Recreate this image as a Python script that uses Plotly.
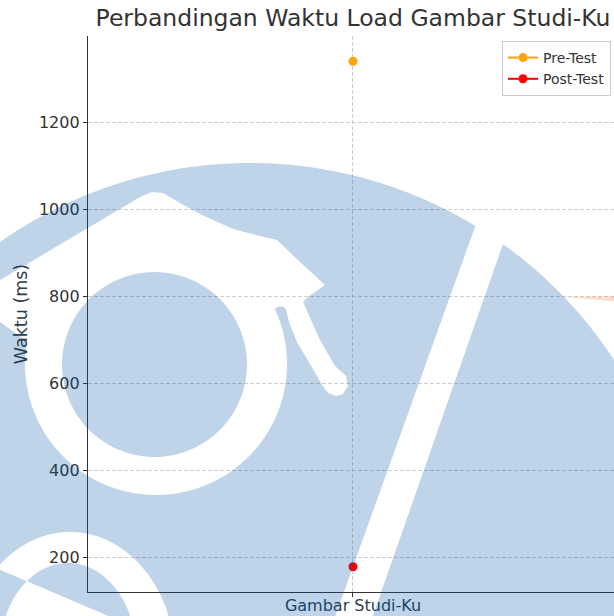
import math
import plotly.graph_objects as go

# ---- data ----
categories = ["Gambar Studi-Ku"]
pre_test = [1340]
post_test = [178]
series_names = ["Pre-Test", "Post-Test"]
y_ticks = [200, 400, 600, 800, 1000, 1200]

W, H = 614, 616
L, R_EDGE, T, B = 88, 614, 36, 592
PW, PH = R_EDGE - L, B - T


def P(x, y):
    return (x - L) / PW, (B - y) / PH


def fmt(pts):
    return " L ".join(f"{P(x, y)[0]:.5f},{P(x, y)[1]:.5f}" for x, y in pts)


def subpath(pts):
    return "M " + fmt(pts) + " Z"


def arc(cx, cy, rx, ry, a0, a1, n=80):
    pts = []
    for i in range(n + 1):
        a = math.radians(a0 + (a1 - a0) * i / n)
        pts.append((cx + rx * math.cos(a), cy + ry * math.sin(a)))
    return pts


# watermark geometry (pixel space)
DCX, DCY, DR = 250, 598, 435


def stripe_left(y):
    return 475 - 0.359 * (y - 227)


def stripe_right(y):
    return 503 - 0.35 * (y - 244)


# left region of the big disk
a_left_top = math.degrees(math.atan2(225.7 - DCY, 475 - DCX))
a_left_bot = -(180 - math.degrees(math.asin((700 - DCY) / DR)))
left_outer = arc(DCX, DCY, DR, DR, a_left_top, a_left_bot, 160)
left_outer += [(stripe_left(700), 700), (stripe_left(226), 226)]

# white cap + ring hole
ring_cx, ring_cy, ring_r = 156, 364, 131
w1 = arc(ring_cx, ring_cy, ring_r, ring_r, 190, -25, 120)
w1 += [(279, 306.5), (283, 306.5), (286, 309), (289, 322), (297, 342), (310, 364),
       (322, 385), (328, 393), (336, 396), (343, 394), (348, 386), (346, 376),
       (335, 366), (320, 340), (303, 302), (308, 297), (325, 285), (300, 262),
       (277, 240), (260, 236), (233, 229), (200, 214), (180, 203), (163, 193),
       (152, 192), (142, 196), (0, 280), (-10, 286), (-10, 322), (0, 322)]

inner_disc = arc(154.5, 364.5, 92.5, 92.5, 0, 360, 120)[:-1]

band = arc(70, 660, 105, 128, 166, 374, 100) + arc(68, 652, 68, 89, 385, 155, 100)

left_path = " ".join(subpath(p) for p in [left_outer, w1, inner_disc, band])

a_right_top = math.degrees(math.atan2(244.1 - DCY, 503 - DCX))
a_right_bot = math.degrees(math.asin((700 - DCY) / DR))
right_outer = [(stripe_right(244), 244)] + arc(DCX, DCY, DR, DR, a_right_top, a_right_bot, 120)
right_outer += [(stripe_right(700), 700)]
right_path = subpath(right_outer)

peach_path = subpath([(565, 297), (614, 296.3), (618, 301.5), (600, 300)])

fig = go.Figure()
fig.add_trace(go.Scatter(x=categories, y=pre_test, name=series_names[0], mode="lines+markers",
                         line=dict(color="#FFA500", width=2), marker=dict(color="#FFA500", size=9)))
fig.add_trace(go.Scatter(x=categories, y=post_test, name=series_names[1], mode="lines+markers",
                         line=dict(color="#FF0000", width=2), marker=dict(color="#FF0000", size=9)))

blue = "rgba(0,84,166,0.25)"
fig.add_shape(type="path", path=left_path, xref="paper", yref="paper", layer="above",
              fillcolor=blue, line=dict(width=0), fillrule="evenodd")
fig.add_shape(type="path", path=right_path, xref="paper", yref="paper", layer="above",
              fillcolor=blue, line=dict(width=0))
fig.add_shape(type="path", path=peach_path, xref="paper", yref="paper", layer="above",
              fillcolor="rgba(240,140,80,0.3)", line=dict(width=0))

font = "DejaVu Sans, Verdana, sans-serif"
grid = dict(showgrid=True, gridcolor="#cfcfcf", gridwidth=0.8, griddash="4px,2px",
            showline=True, linecolor="#333333", linewidth=1.3, ticks="outside", ticklen=4,
            tickcolor="#333333", zeroline=False, automargin=False)
fig.update_layout(
    width=W, height=H,
    margin=dict(l=L, r=W - R_EDGE, t=T, b=H - B, pad=0, autoexpand=False),
    paper_bgcolor="white", plot_bgcolor="rgba(0,0,0,0)",
    font=dict(family=font, size=16, color="#333333"),
    title=dict(text="Perbandingan Waktu Load Gambar Studi-Ku", x=(353 - L) / PW, xref="paper",
               xanchor="center", y=1 - 18 / H, yref="container", yanchor="middle",
               font=dict(size=23.5, color="#333333", family=font)),
    showlegend=True,
    legend=dict(x=(611 - L) / PW, y=(B - 41) / PH, xanchor="right", yanchor="top",
                bgcolor="white", bordercolor="#cccccc", borderwidth=1,
                font=dict(size=14, color="#333333", family=font), tracegroupgap=0),
    xaxis=dict(type="category", range=[-0.5, 0.4925], ticklabelstandoff=-5,
               tickfont=dict(size=16, color="#2a3d52"), **grid),
    yaxis=dict(range=[120, 1398], tickvals=y_ticks,
               tickfont=dict(size=16, color="#333333"),
               title=dict(text="Waktu (ms)", standoff=6, font=dict(size=17.5, color="#2a3d52")),
               **grid),
)

fig.write_html(
    "out.html",
    config={"displayModeBar": False},
    post_script="document.body.style.margin='0';document.body.style.padding='0';"
                "document.body.style.overflow='hidden';",
)
